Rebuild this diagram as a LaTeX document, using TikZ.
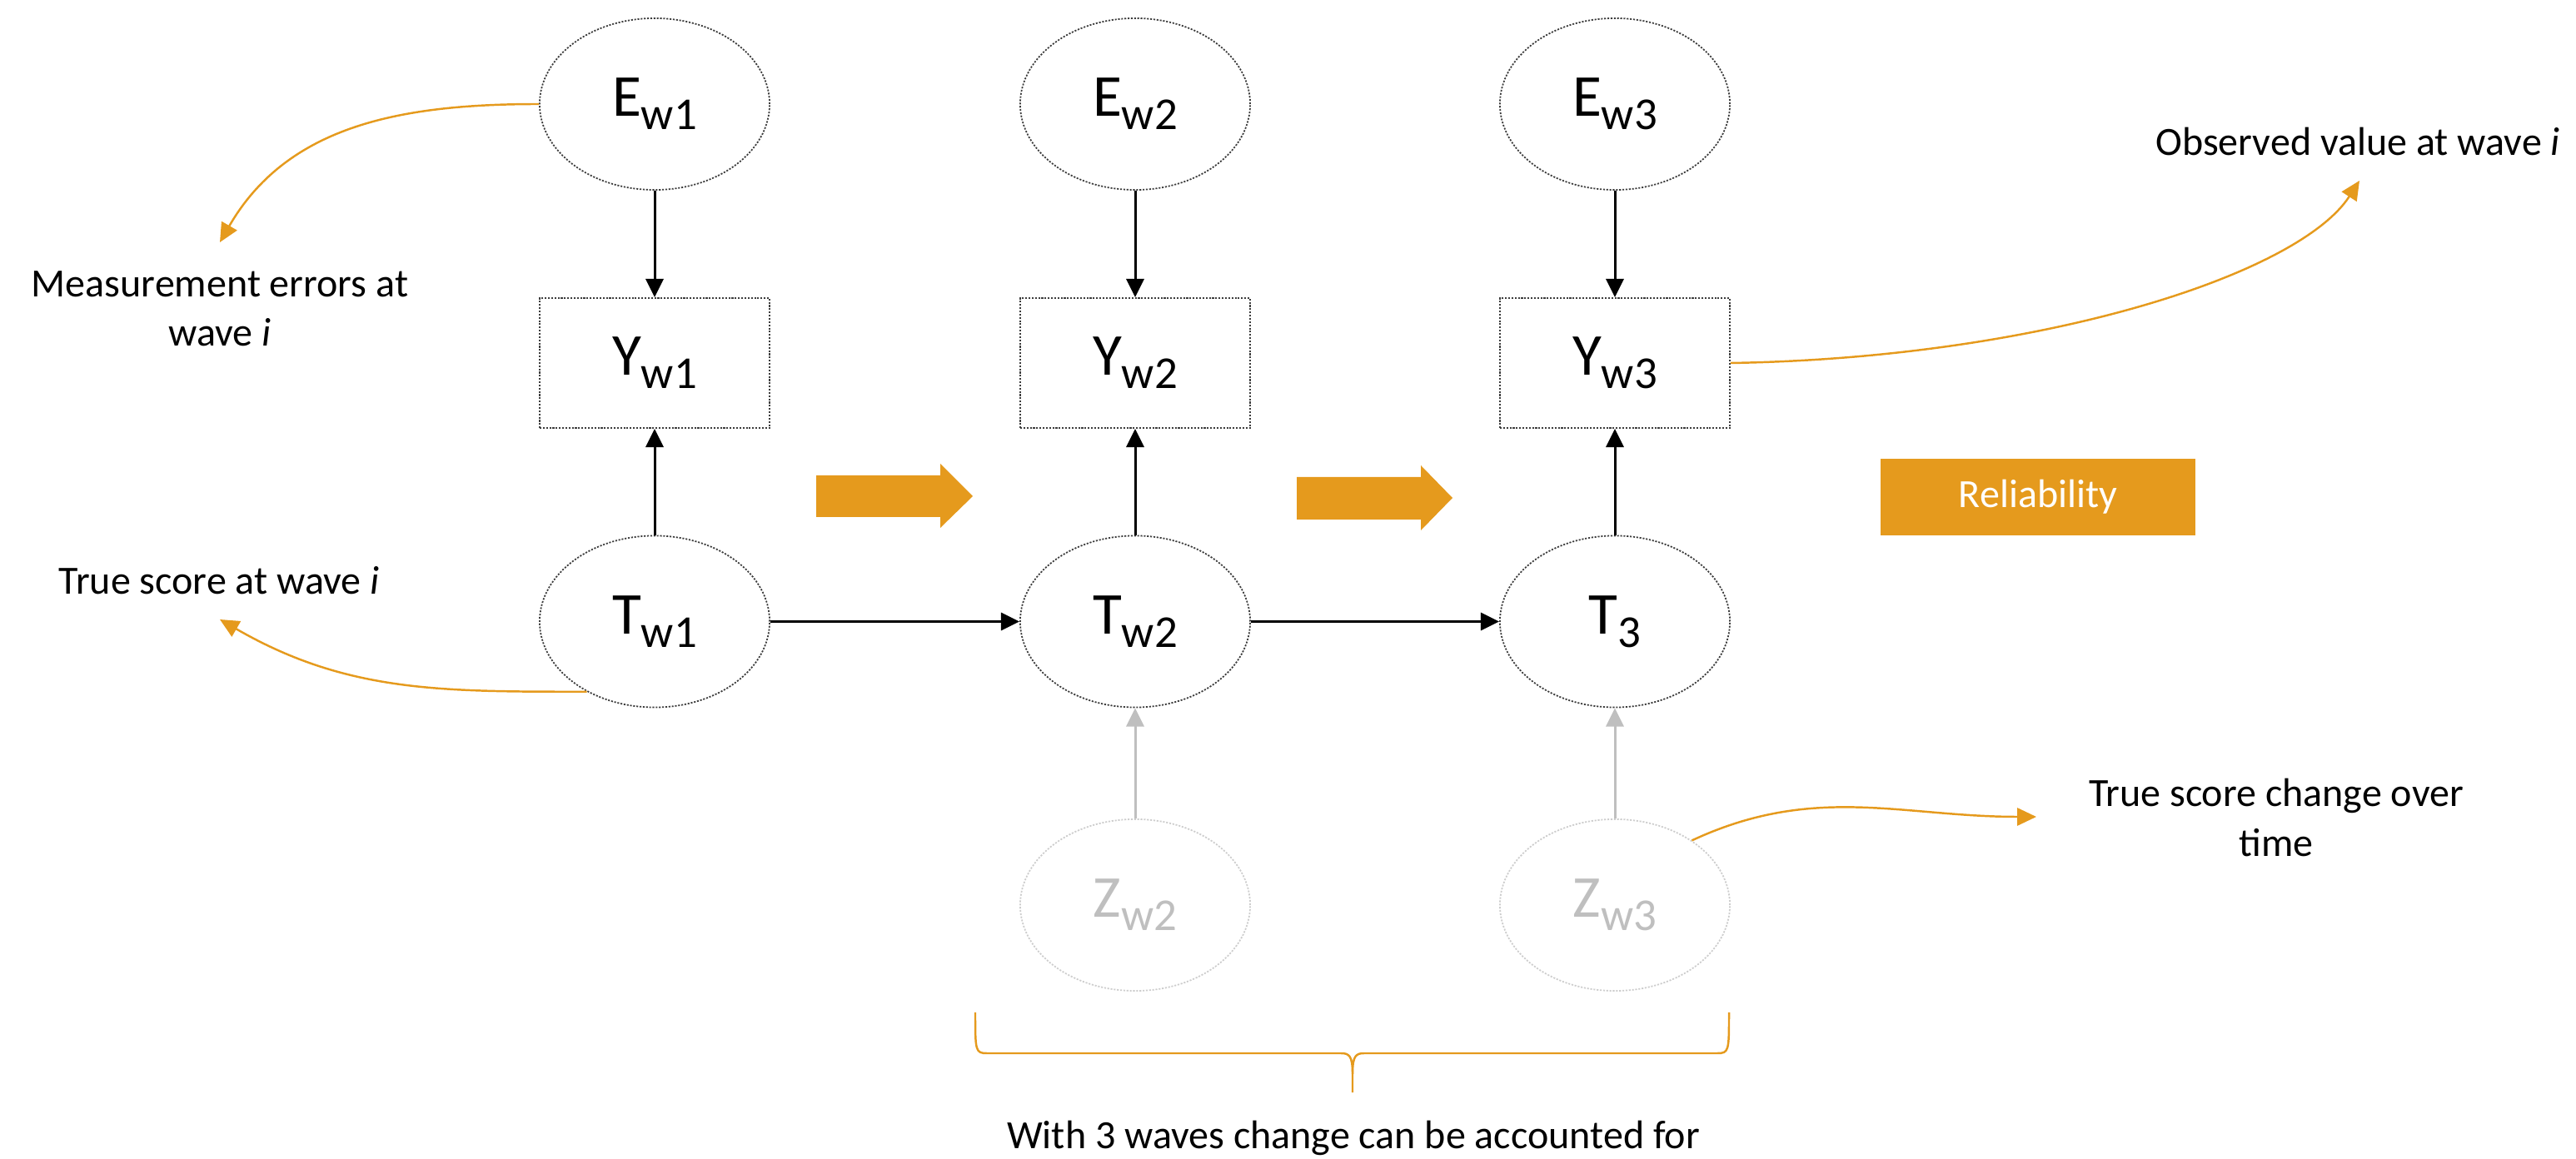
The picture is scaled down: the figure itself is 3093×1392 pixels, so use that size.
\documentclass[tikz,border=0pt]{standalone}
\usepackage{fontspec}
\setmainfont{Carlito}
\usetikzlibrary{arrows.meta,shapes.geometric}

\definecolor{accent}{RGB}{229,154,29}
\definecolor{faint}{RGB}{191,191,191}
\definecolor{faintline}{RGB}{205,205,205}
\definecolor{outline}{RGB}{60,60,60}

% variable name with a lowered subscript
\newcommand{\varname}[2]{{\fontsize{20.3}{24}\selectfont #1}\raisebox{-4.5pt}{\fontsize{15.6}{18}\selectfont #2}}

\begin{document}
\begin{tikzpicture}[x=0.01cm,y=-0.01cm,
  latent/.style={ellipse, draw=outline, dash pattern=on 0.6pt off 0.5pt, line width=0.5pt,
    minimum width=2.76cm, minimum height=2.06cm, inner sep=0pt},
  faded/.style={latent, draw=faintline, text=faint},
  observed/.style={rectangle, draw=outline, dash pattern=on 0.6pt off 0.5pt, line width=0.5pt,
    minimum width=2.76cm, minimum height=1.56cm, inner sep=0pt},
  link/.style={-{Triangle[length=6.3pt,width=6pt]}, line width=0.85pt, draw=black},
  fadedlink/.style={link, draw=faint},
  callout/.style={-{Triangle[length=6.5pt,width=6pt]}, line width=0.7pt, draw=accent},
  note/.style={font=\fontsize{13.66}{16.8}\selectfont, align=center, inner sep=0pt},
  bigarrow/.style={fill=accent},
  bracket/.style={draw=accent, line width=0.7pt},
]
\useasboundingbox (0,0) rectangle (3093,1392);

% error terms
\node[latent] (e1) at (786,125) {\varname{E}{w1}};
\node[latent] (e2) at (1363,125) {\varname{E}{w2}};
\node[latent] (e3) at (1939,125) {\varname{E}{w3}};

% observed values
\node[observed] (y1) at (786,436) {\varname{Y}{w1}};
\node[observed] (y2) at (1363,436) {\varname{Y}{w2}};
\node[observed] (y3) at (1939,436) {\varname{Y}{w3}};

% true scores
\node[latent] (t1) at (786,746.5) {\varname{T}{w1}};
\node[latent] (t2) at (1363,746.5) {\varname{T}{w2}};
\node[latent] (t3) at (1939,746.5) {\varname{T}{3}};

% change terms
\node[faded] (z2) at (1363,1087) {\varname{Z}{w2}};
\node[faded] (z3) at (1939,1087) {\varname{Z}{w3}};

% model paths
\draw[link] (e1) -- (y1);
\draw[link] (e2) -- (y2);
\draw[link] (e3) -- (y3);
\draw[link] (t1) -- (y1);
\draw[link] (t2) -- (y2);
\draw[link] (t3) -- (y3);
\draw[link] (t1) -- (t2);
\draw[link] (t2) -- (t3);
\draw[fadedlink] (z2) -- (t2);
\draw[fadedlink] (z3) -- (t3);

% block arrows between waves
\fill[bigarrow] (980,571) -- (1129,571) -- (1129,557) -- (1168,596) -- (1129,634)
  -- (1129,621) -- (980,621) -- cycle;
\fill[bigarrow] (1557,573) -- (1706,573) -- (1706,559) -- (1744,598) -- (1706,637)
  -- (1706,624) -- (1557,624) -- cycle;

\node[rectangle, fill=accent, text=white, minimum width=3.78cm, minimum height=0.92cm,
  inner sep=0pt, font=\fontsize{13.66}{16.8}\selectfont] (rel) at (2447,597) {Reliability};

% annotations
\node[note] (errnote) at (264,371) {Measurement errors at\\wave \textit{i}};
\coordinate (errtip) at (264,291);
\draw[callout] (e1.west) to[out=180,in=60] (errtip);

\node[note] (truenote) at (263,697) {True score at wave \textit{i}};
\coordinate (truetip) at (264,744);
\draw[callout] (t1.226) to[out=180,in=-30] (truetip);

\node[note] (obsnote) at (2831,170) {Observed value at wave \textit{i}};
\coordinate (obstip) at (2833,217);
\draw[callout] (y3.east) .. controls (2450,430) and (2760,330) .. (obstip);

\node[note] (chgnote) at (2733,982) {True score change over\\time};
\coordinate (chgtip) at (2445,981);
\draw[callout] (z3.40) to[out=25,in=180] (chgtip);

% brace under the change terms
\coordinate (bl) at (1171,1216);
\coordinate (br) at (2076,1216);
\coordinate (bt) at (1624,1312);
\draw[bracket] (bl) .. controls (1171,1262) and (1171,1265) .. (1185,1265) -- (1610,1265)
  .. controls (1620,1265) and (1624,1268) .. (1624,1290) -- (bt);
\draw[bracket] (br) .. controls (2076,1262) and (2076,1265) .. (2062,1265) -- (1638,1265)
  .. controls (1628,1265) and (1624,1268) .. (1624,1290);
\node[note] (bottomnote) at (1625,1367) {With 3 waves change can be accounted for};
\end{tikzpicture}
\end{document}
